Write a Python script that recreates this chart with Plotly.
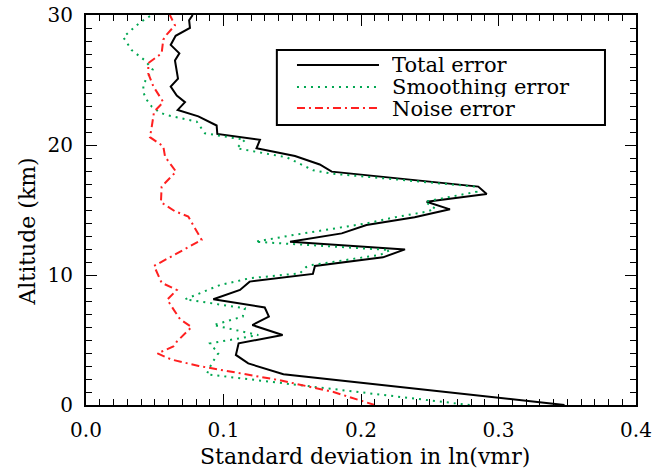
import plotly.graph_objects as go

# ---- data ----
total_alt = [0.0, 2.36, 3.2, 3.85, 4.74, 5.38, 6.15, 6.8, 7.5, 8.13, 8.85, 9.49, 10.08, 10.7,
             11.36, 11.97, 12.56, 13.2, 13.85, 14.45, 15.05, 15.64, 16.23, 16.8, 17.95, 18.5,
             19.15, 19.75, 20.4, 20.85, 21.5, 22.2, 22.7, 23.3, 23.8, 24.5, 25.1, 25.9, 26.5,
             27.05, 27.7, 28.4, 29.0, 29.6, 30.0]
total_err = [0.348, 0.1436, 0.118, 0.109, 0.111, 0.143, 0.121, 0.133, 0.130, 0.0926, 0.112,
             0.119, 0.165, 0.1665, 0.216, 0.232, 0.1484, 0.186, 0.204, 0.239, 0.2647, 0.2477,
             0.2914, 0.2853, 0.1787, 0.170, 0.152, 0.124, 0.1265, 0.0955, 0.095, 0.0817, 0.0667,
             0.072, 0.066, 0.0616, 0.0669, 0.0655, 0.0647, 0.0679, 0.0616, 0.0652, 0.0756,
             0.075, 0.0776]

smooth_alt = [0.0, 2.36, 3.2, 3.97, 4.74, 5.38, 6.15, 6.8, 7.44, 8.13, 9.23, 9.75, 10.13, 10.6,
              10.77, 11.54, 11.92, 12.56, 13.08, 13.97, 14.45, 14.87, 15.1, 15.64, 16.4, 16.8,
              17.8, 18.05, 19.05, 19.75, 20.4, 20.9, 21.8, 22.3, 22.5, 22.95, 23.5, 24.05, 24.7,
              25.8, 26.5, 27.3, 28.3, 29.4, 30.0]
smooth_err = [0.279, 0.0878, 0.0914, 0.0962, 0.0902, 0.1253, 0.0926, 0.114, 0.1156, 0.072,
              0.0975, 0.119, 0.1556, 0.160, 0.164, 0.2138, 0.221, 0.123, 0.151, 0.204, 0.225,
              0.2477, 0.254, 0.2465, 0.284, 0.283, 0.1787, 0.1653, 0.146, 0.1096, 0.1156, 0.0865,
              0.0805, 0.0587, 0.0538, 0.0478, 0.044, 0.0417, 0.0417, 0.0485, 0.0429, 0.0332,
              0.0271, 0.039, 0.0478]

noise_alt = [0.0, 1.0, 1.9, 3.0, 3.5, 3.97, 4.5, 4.87, 6.0, 6.6, 7.3, 8.1, 8.85, 9.4, 10.7,
             12.7, 14.5, 14.9, 15.6, 16.8, 17.95, 19.1, 19.9, 20.6, 21.4, 22.56, 23.3, 24.5,
             25.5, 26.3, 27.05, 28.1, 28.5, 29.2, 30.0]
noise_err = [0.210, 0.180, 0.141, 0.082, 0.062, 0.052, 0.0635, 0.066, 0.0768, 0.0684, 0.064,
             0.0591, 0.066, 0.055, 0.0495, 0.0841, 0.0744, 0.0647, 0.0545, 0.055, 0.0655,
             0.0575, 0.0562, 0.0465, 0.0478, 0.0495, 0.0562, 0.049, 0.0453, 0.0453, 0.055,
             0.0562, 0.0587, 0.0647, 0.061]

series_names = ["Total error", "Smoothing error", "Noise error"]
x_ticks = [0.0, 0.1, 0.2, 0.3, 0.4]
y_ticks = [0, 10, 20, 30]
x_title = "Standard deviation in ln(vmr)"
y_title = "Altitude (km)"

# ---- styles ----
FONT = "DejaVu Serif"
styles = [
    dict(color="black", width=2, dash="solid"),
    dict(color="#00a651", width=2, dash="2px,5px"),
    dict(color="#ff2020", width=2, dash="8px,4px,2px,4px"),
]

fig = go.Figure()
for name, xs, ys, st in zip(series_names, [total_err, smooth_err, noise_err],
                            [total_alt, smooth_alt, noise_alt], styles):
    fig.add_trace(go.Scatter(x=xs, y=ys, mode="lines", name=name, line=st,
                             showlegend=False))

# ---- manual legend (box, sample lines, labels) ----
fig.add_shape(type="rect", xref="paper", yref="paper", x0=0.347, x1=0.9436, y0=0.718, y1=0.910,
              line=dict(color="black", width=2), fillcolor="white", layer="above")
rows = [0.8718, 0.8154, 0.7615]
for name, st, yy in zip(series_names, styles, rows):
    fig.add_shape(type="line", xref="paper", yref="paper", x0=0.3836, x1=0.5327, y0=yy, y1=yy,
                  line=st, layer="above")
    fig.add_annotation(xref="paper", yref="paper", x=0.555, y=yy, text=name, showarrow=False,
                       xanchor="left", yanchor="middle", height=21, borderpad=0,
                       font=dict(family=FONT, size=21, color="black"))

# ---- axis titles as annotations (placed like the reference) ----
fig.add_annotation(xref="paper", yref="paper", x=0.507, y=-0.131, text=x_title,
                   showarrow=False, xanchor="center", yanchor="middle",
                   font=dict(family=FONT, size=22, color="black"))
fig.add_annotation(xref="paper", yref="paper", x=-0.107, y=0.445, text=y_title,
                   showarrow=False, xanchor="center", yanchor="middle", textangle=-90,
                   font=dict(family=FONT, size=22, color="black"))

axis_common = dict(
    showline=True, linecolor="black", linewidth=2, mirror="ticks",
    ticks="inside", tickcolor="black", tickwidth=1.3,
    showgrid=False, zeroline=False, automargin=False,
    tickfont=dict(family=FONT, size=20, color="black"),
)

fig.update_xaxes(range=[0, 0.4], tickvals=x_ticks, ticktext=[f"{v:.1f}" for v in x_ticks],
                 ticklen=11, ticklabelstandoff=6,
                 minor=dict(dtick=0.01, ticks="inside", ticklen=6, tickcolor="black",
                            tickwidth=1.3, showgrid=False),
                 **axis_common)
fig.update_yaxes(range=[0, 30], tickvals=y_ticks, ticktext=[str(v) for v in y_ticks],
                 ticklen=11, ticklabelstandoff=7,
                 minor=dict(dtick=1, ticks="inside", ticklen=6, tickcolor="black",
                            tickwidth=1.3, showgrid=False),
                 **axis_common)

fig.update_layout(
    width=655, height=470,
    margin=dict(l=86, r=19, t=15, b=65),
    paper_bgcolor="white", plot_bgcolor="white",
    showlegend=False,
)

fig.write_html("out.html", config={"displayModeBar": False},
               post_script="document.body.style.margin='0';")
